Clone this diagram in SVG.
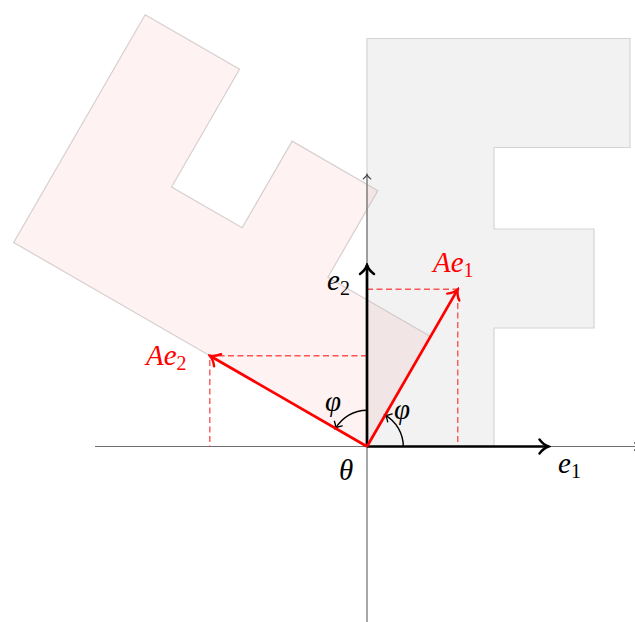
<svg xmlns="http://www.w3.org/2000/svg" width="635" height="622" viewBox="0 0 635 622">
  <style>
    .shape { stroke-width: 1.2; stroke-linejoin: miter; }
    .gray { fill: #f2f2f2; stroke: #d4d4d4; }
    .pink { fill: #ff0000; fill-opacity: 0.05; stroke: #c8c0c0; stroke-opacity: 0.75; }
    .axis { stroke: #6e6e6e; stroke-width: 1.2; fill: none; }
    .dash { stroke: #ff2a2a; stroke-opacity: 0.8; stroke-width: 1.4; stroke-dasharray: 6 3.5; fill: none; }
    .vec { stroke-width: 2.7; fill: none; }
    .black { stroke: #000; }
    .red { stroke: #f00; }
    .arc { stroke: #000; stroke-width: 1.4; fill: none; }
    .lbl { font-family: 'Liberation Serif', serif; font-style: italic; font-size: 29px; }
    .lred { fill: #f00; }
    .sub { font-style: normal; font-size: 20px; }
  </style>
  <defs>
    <marker id="tipBlack" markerUnits="userSpaceOnUse" viewBox="-12 -9 14 18" refX="0" refY="0" markerWidth="14" markerHeight="18" orient="auto">
      <path d="M-9,-7 C-6,-3 -3,-1 0,0 C-3,1 -6,3 -9,7" fill="none" stroke="#000" stroke-width="2.4" stroke-linecap="round"/>
    </marker>
    <marker id="tipRed" markerUnits="userSpaceOnUse" viewBox="-12 -9 14 18" refX="0" refY="0" markerWidth="14" markerHeight="18" orient="auto">
      <path d="M-9,-7 C-6,-3 -3,-1 0,0 C-3,1 -6,3 -9,7" fill="none" stroke="#f00" stroke-width="2.4" stroke-linecap="round"/>
    </marker>
    <marker id="tipSmall" markerUnits="userSpaceOnUse" viewBox="-8 -6 10 12" refX="0" refY="0" markerWidth="10" markerHeight="12" orient="auto">
      <path d="M-5.5,-4.5 C-3.5,-2 -2,-0.6 0,0 C-2,0.6 -3.5,2 -5.5,4.5" fill="none" stroke="#000" stroke-width="1.4" stroke-linecap="round"/>
    </marker>
    <marker id="tipAxis" markerUnits="userSpaceOnUse" viewBox="-8 -6 10 12" refX="0" refY="0" markerWidth="10" markerHeight="12" orient="auto">
      <path d="M-4.5,-3.8 C-3,-1.6 -1.6,-0.5 0,0 C-1.6,0.5 -3,1.6 -4.5,3.8" fill="none" stroke="#444" stroke-width="1.1" stroke-linecap="round"/>
    </marker>
    <polygon id="F" points="367,446.5 367,38.5 630,38.5 630,147.5 494,147.5 494,229 594,229 594,328 494,328 494,446.5"/>
  </defs>

  <g id="shape-original">
    <use href="#F" class="shape gray"/>
  </g>
  <g id="shape-rotated">
    <use href="#F" class="shape pink" transform="rotate(-60 367 446.5)"/>
  </g>

  <g id="connectors">
    <line class="axis" x1="95" y1="446.5" x2="639" y2="446.5" marker-end="url(#tipAxis)"/>
    <line class="axis" x1="367" y1="628" x2="367" y2="174.5" marker-end="url(#tipAxis)"/>

    <polyline class="dash" points="367,289.3 457.75,289.3 457.75,446.5"/>
    <polyline class="dash" points="367,355.75 209.8,355.75 209.8,446.5"/>

    <path class="arc" d="M403.3,446.5 A36.3,36.3 0 0 0 385.15,415.1" marker-end="url(#tipSmall)"/>
    <path class="arc" d="M367,410.2 A36.3,36.3 0 0 0 335.56,428.35" marker-end="url(#tipSmall)"/>

    <line class="vec black" x1="367" y1="446.5" x2="548.5" y2="446.5" marker-end="url(#tipBlack)"/>
    <line class="vec black" x1="367" y1="446.5" x2="367" y2="265" marker-end="url(#tipBlack)"/>
    <line class="vec red" x1="367" y1="446.5" x2="457.75" y2="289.3" marker-end="url(#tipRed)"/>
    <line class="vec red" x1="367" y1="446.5" x2="209.8" y2="355.75" marker-end="url(#tipRed)"/>
  </g>

  <g id="labels">
    <text class="lbl lred" x="433" y="272">Ae<tspan class="sub" dy="5">1</tspan></text>
    <text class="lbl lred" x="146" y="365">Ae<tspan class="sub" dy="5">2</tspan></text>
    <text class="lbl" x="327" y="290">e<tspan class="sub" dy="5">2</tspan></text>
    <text class="lbl" x="558" y="473">e<tspan class="sub" dy="5">1</tspan></text>
    <text class="lbl" x="339" y="480">θ</text>
    <text class="lbl" x="325" y="411">φ</text>
    <text class="lbl" x="394" y="419">φ</text>
  </g>
</svg>
